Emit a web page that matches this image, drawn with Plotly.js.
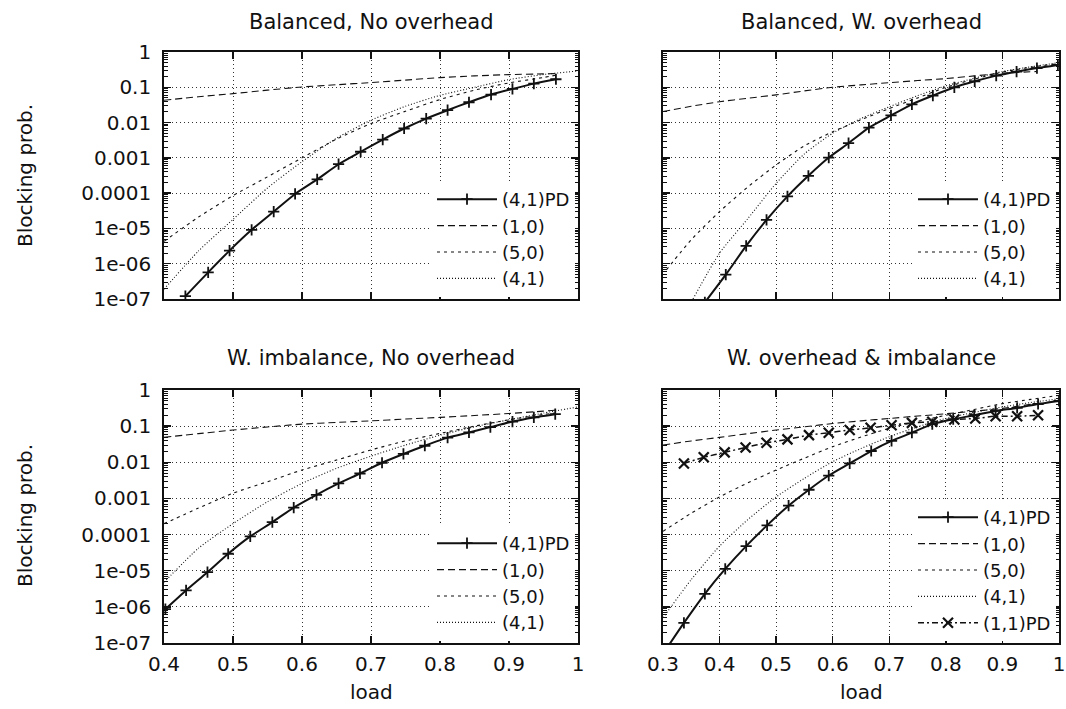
<!DOCTYPE html>
<html>
<head>
<meta charset="utf-8">
<script src="https://cdn.plot.ly/plotly-3.0.1.min.js"></script>
<style>html,body{margin:0;padding:0;background:#fff;}#chart{width:1066px;height:709px;}</style>
</head>
<body>
<div id="chart"></div>
<script>
// ---------- DATA ----------
const panelTitles = ["Balanced, No overhead", "Balanced, W. overhead", "W. imbalance, No overhead", "W. overhead & imbalance"];
const seriesNames = ["(4,1)PD", "(1,0)", "(5,0)", "(4,1)", "(1,1)PD"];
const yTickExp = [-7, -6, -5, -4, -3, -2, -1, 0];
const yTickText = ["1e-07", "1e-06", "1e-05", "0.0001", "0.001", "0.01", "0.1", "1"];

// Top-left: Balanced, No overhead
const tl_pd_x = [0.431,0.464,0.495,0.527,0.559,0.590,0.622,0.653,0.685,0.717,0.748,0.780,0.811,0.842,0.874,0.905,0.936,0.968];
const tl_pd_y = [1.2e-7,5.7e-7,2.35e-6,9.1e-6,3.0e-5,9.5e-5,2.45e-4,6.6e-4,1.49e-3,3.3e-3,6.8e-3,0.013,0.0224,0.0377,0.0622,0.090,0.127,0.169];
const tl_x = [0.40,0.45,0.50,0.55,0.60,0.65,0.70,0.75,0.80,0.85,0.90,0.95,0.968];
const tl_10_y = [0.043,0.054,0.066,0.083,0.102,0.118,0.136,0.16,0.188,0.21,0.229,0.24,0.245];
const tl_50_y = [4.3e-6,2.1e-5,8.5e-5,2.9e-4,1.0e-3,3.4e-3,9.4e-3,0.021,0.045,0.083,0.133,0.19,0.22];
const tl_41_x = [0.40,0.45,0.50,0.55,0.60,0.65,0.70,0.75,0.80,0.85,0.90,0.95,1.0];
const tl_41_y = [1.9e-7,2.3e-6,1.8e-5,1.4e-4,7.8e-4,3.6e-3,0.0117,0.029,0.059,0.10,0.165,0.23,0.29];

// Top-right: Balanced, W. overhead
const tr_pd_x = [0.374,0.411,0.447,0.483,0.520,0.557,0.593,0.628,0.664,0.703,0.740,0.777,0.815,0.851,0.889,0.925,0.961,0.998];
const tr_pd_y = [8e-8,4.9e-7,3.2e-6,1.74e-5,8.1e-5,3.1e-4,1.02e-3,2.6e-3,7.2e-3,0.0159,0.033,0.058,0.10,0.148,0.214,0.277,0.35,0.43];
const tr_10_x = [0.30,0.35,0.40,0.45,0.50,0.55,0.60,0.65,0.70,0.75,0.80,0.85,0.90,0.96];
const tr_10_y = [0.0205,0.029,0.039,0.049,0.061,0.079,0.10,0.117,0.135,0.155,0.176,0.21,0.25,0.28];
const tr_50_x = [0.306,0.35,0.40,0.45,0.50,0.55,0.60,0.65,0.70,0.75,0.80,0.85,0.90,0.95,1.0];
const tr_50_y = [6.7e-7,4.8e-6,3.0e-5,1.5e-4,6.3e-4,2.2e-3,5.5e-3,0.012,0.025,0.05,0.10,0.17,0.27,0.37,0.47];
const tr_41_x = [0.353,0.40,0.45,0.50,0.55,0.60,0.65,0.70,0.75,0.80,0.85,0.90,0.95,1.0];
const tr_41_y = [1e-7,2.0e-6,1.9e-5,1.9e-4,1.3e-3,5.0e-3,0.013,0.028,0.058,0.11,0.18,0.28,0.38,0.5];

// Bottom-left: W. imbalance, No overhead
const bl_pd_x = [0.402,0.432,0.463,0.493,0.525,0.557,0.588,0.621,0.653,0.684,0.716,0.747,0.778,0.811,0.842,0.873,0.905,0.936,0.967];
const bl_pd_y = [8.7e-7,2.85e-6,9.1e-6,2.95e-5,8.9e-5,2.2e-4,5.6e-4,1.26e-3,2.6e-3,4.9e-3,9.7e-3,0.017,0.0287,0.048,0.067,0.094,0.134,0.174,0.214];
const bl_x = [0.40,0.45,0.50,0.55,0.60,0.65,0.70,0.75,0.80,0.85,0.90,0.95,0.967];
const bl_10_y = [0.049,0.062,0.078,0.095,0.114,0.127,0.14,0.157,0.175,0.197,0.224,0.26,0.275];
const bl_50_y = [2.0e-4,5.4e-4,1.4e-3,2.9e-3,6.1e-3,0.0115,0.022,0.039,0.063,0.10,0.15,0.21,0.23];
const bl_41_x = [0.40,0.45,0.50,0.55,0.60,0.65,0.70,0.75,0.80,0.85,0.90,0.95,1.0];
const bl_41_y = [4.8e-6,4.2e-5,2.0e-4,8.1e-4,2.6e-3,6.8e-3,0.0148,0.030,0.056,0.096,0.15,0.23,0.34];

// Bottom-right: W. overhead & imbalance
const br_pd_x = [0.300,0.337,0.374,0.410,0.447,0.484,0.522,0.558,0.593,0.630,0.668,0.704,0.740,0.776,0.813,0.850,0.888,0.926,0.963,1.0];
const br_pd_y = [5e-8,3.6e-7,2.3e-6,1.12e-5,4.8e-5,1.8e-4,6.3e-4,1.74e-3,4.3e-3,9.3e-3,0.0205,0.039,0.066,0.114,0.156,0.20,0.263,0.32,0.41,0.5];
const br_11_x = [0.337,0.372,0.409,0.446,0.483,0.520,0.558,0.593,0.630,0.667,0.704,0.740,0.776,0.815,0.852,0.888,0.926,0.963];
const br_11_y = [9.3e-3,0.0137,0.0188,0.0258,0.0346,0.043,0.0565,0.066,0.078,0.090,0.106,0.123,0.132,0.153,0.163,0.188,0.188,0.2];
const br_x = [0.30,0.35,0.40,0.45,0.50,0.55,0.60,0.65,0.70,0.75,0.80,0.85,0.90,0.95,1.0];
const br_10_y = [0.030,0.039,0.049,0.062,0.078,0.096,0.118,0.14,0.163,0.19,0.22,0.26,0.31,0.4,0.5];
const br_50_y = [1.23e-4,3.9e-4,1.1e-3,2.7e-3,6.1e-3,0.013,0.027,0.05,0.087,0.135,0.2,0.29,0.42,0.55,0.71];
const br_41_y = [5e-7,5.7e-6,4.8e-5,2.6e-4,1.1e-3,3.6e-3,0.0104,0.024,0.051,0.096,0.163,0.24,0.34,0.45,0.57];

// ---------- STYLE ----------
const FONT = "DejaVu Sans, Liberation Sans, Arial, sans-serif";
const INK = "#111";
const styles = {
  pd:  {line:{color:INK, width:2, dash:"solid"}, marker:{symbol:"cross-thin-open", size:8, line:{width:1.8, color:INK}}, mode:"lines+markers"},
  s10: {line:{color:INK, width:1.1, dash:"7px,4px"}, mode:"lines"},
  s50: {line:{color:INK, width:1.1, dash:"3px,4px"}, mode:"lines"},
  s41: {line:{color:INK, width:1.1, dash:"1px,2px"}, mode:"lines"},
  s11: {line:{color:INK, width:1.5, dash:"6px,3px,2px,3px"}, marker:{symbol:"x-thin-open", size:10, line:{width:2.2, color:INK}}, mode:"lines+markers"}
};

function tr(x, y, name, st, ax, leg) {
  const t = {type:"scatter", x:x, y:y, name:name, xaxis:"x"+ax, yaxis:"y"+ax, legend:leg,
    line:Object.assign({}, st.line, {shape:"spline", smoothing:0.6}), mode:st.mode};
  if (st.marker) t.marker = st.marker;
  return t;
}

const traces = [
  tr(tl_x, tl_10_y, seriesNames[1], styles.s10, "", "legend"),
  tr(tl_x, tl_50_y, seriesNames[2], styles.s50, "", "legend"),
  tr(tl_41_x, tl_41_y, seriesNames[3], styles.s41, "", "legend"),
  tr(tl_pd_x, tl_pd_y, seriesNames[0], styles.pd, "", "legend"),
  tr(tr_10_x, tr_10_y, seriesNames[1], styles.s10, "2", "legend2"),
  tr(tr_50_x, tr_50_y, seriesNames[2], styles.s50, "2", "legend2"),
  tr(tr_41_x, tr_41_y, seriesNames[3], styles.s41, "2", "legend2"),
  tr(tr_pd_x, tr_pd_y, seriesNames[0], styles.pd, "2", "legend2"),
  tr(bl_x, bl_10_y, seriesNames[1], styles.s10, "3", "legend3"),
  tr(bl_x, bl_50_y, seriesNames[2], styles.s50, "3", "legend3"),
  tr(bl_41_x, bl_41_y, seriesNames[3], styles.s41, "3", "legend3"),
  tr(bl_pd_x, bl_pd_y, seriesNames[0], styles.pd, "3", "legend3"),
  tr(br_x, br_10_y, seriesNames[1], styles.s10, "4", "legend4"),
  tr(br_x, br_50_y, seriesNames[2], styles.s50, "4", "legend4"),
  tr(br_x, br_41_y, seriesNames[3], styles.s41, "4", "legend4"),
  tr(br_11_x, br_11_y, seriesNames[4], styles.s11, "4", "legend4"),
  tr(br_pd_x, br_pd_y, seriesNames[0], styles.pd, "4", "legend4")
];
const rank = {"(4,1)PD":1, "(1,0)":2, "(5,0)":3, "(4,1)":4, "(1,1)PD":5};
traces.forEach(t => { t.legendrank = rank[t.name]; });

// ---------- LAYOUT ----------
const W = 1066, H = 709;
const colL = [164/W, 578/W], colR = [663/W, 1059/W];
const rowT = [(H-299)/H, (H-52)/H], rowB = [(H-643)/H, (H-390)/H];

const yTickVals = yTickExp.map(e => Math.pow(10, e));
const yMinor = [];
for (let e = -7; e < 0; e++) for (let k = 2; k <= 9; k++) yMinor.push(k * Math.pow(10, e));

const TICKFONT = {family:FONT, size:20, color:INK};

function xax(domain, anchor, range, labels) {
  return {domain:domain, anchor:anchor, range:range, dtick:0.1, tick0:0, showticklabels:labels,
    ticks:"inside", ticklen:7, tickwidth:1.3, tickcolor:INK, mirror:"ticks", showline:true, linewidth:1.8, linecolor:INK,
    showgrid:true, gridcolor:"#333", griddash:"1px,3px", gridwidth:1, zeroline:false,
    tickfont:TICKFONT, ticklabelstandoff:2, ticklabeloverflow:"allow", fixedrange:true};
}
function yax(domain, anchor, labels) {
  return {domain:domain, anchor:anchor, type:"log", range:[-7, 0], tickmode:"array", tickvals:yTickVals, ticktext:yTickText,
    showticklabels:labels, ticks:"inside", ticklen:7, tickwidth:1.3, tickcolor:INK, mirror:"ticks", showline:true, linewidth:1.8, linecolor:INK,
    showgrid:true, gridcolor:"#333", griddash:"1px,3px", gridwidth:1, zeroline:false,
    minor:{tickmode:"array", tickvals:yMinor, ticks:"inside", ticklen:3.5, tickwidth:1, tickcolor:INK, showgrid:false},
    tickfont:TICKFONT, ticklabelstandoff:7, ticklabeloverflow:"allow", fixedrange:true};
}
function leg(xr, yb) {
  return {x:xr, xanchor:"right", y:yb, yanchor:"bottom", bgcolor:"#fff", borderwidth:0,
    font:{family:FONT, size:18, color:INK}, tracegroupgap:0, traceorder:"normal", itemwidth:60};
}

const annots = [
  {text:panelTitles[0], x:(colL[0]+colL[1])/2, y:(H-22)/H},
  {text:panelTitles[1], x:(colR[0]+colR[1])/2, y:(H-22)/H},
  {text:panelTitles[2], x:(colL[0]+colL[1])/2, y:(H-358)/H},
  {text:panelTitles[3], x:(colR[0]+colR[1])/2, y:(H-358)/H},
  {text:"Blocking prob.", x:25/W, y:(H-176)/H, textangle:-90, font:TICKFONT},
  {text:"Blocking prob.", x:25/W, y:(H-516)/H, textangle:-90, font:TICKFONT},
  {text:"load", x:(colL[0]+colL[1])/2, y:(H-692)/H, font:TICKFONT},
  {text:"load", x:(colR[0]+colR[1])/2, y:(H-692)/H, font:TICKFONT}
].map(a => Object.assign({xref:"paper", yref:"paper", xanchor:"center", yanchor:"middle", showarrow:false,
  font:{family:FONT, size:21, color:INK}}, a));

const layout = {
  width:W, height:H, margin:{l:0, r:0, t:0, b:0}, paper_bgcolor:"#fff", plot_bgcolor:"#fff",
  font:{family:FONT, size:18, color:INK},
  showlegend:true,
  xaxis:xax(colL, "y", [0.4, 1.0], false),  yaxis:yax(rowT, "x", true),
  xaxis2:xax(colR, "y2", [0.3, 1.0], false), yaxis2:yax(rowT, "x2", false),
  xaxis3:xax(colL, "y3", [0.4, 1.0], true),  yaxis3:yax(rowB, "x3", true),
  xaxis4:xax(colR, "y4", [0.3, 1.0], true),  yaxis4:yax(rowB, "x4", false),
  legend:leg(colL[1] - 3/W, rowT[0] + 2/H),
  legend2:leg(colR[1] - 3/W, rowT[0] + 2/H),
  legend3:leg(colL[1] - 3/W, rowB[0] + 2/H),
  legend4:leg(colR[1] - 3/W, rowB[0] + 2/H),
  annotations:annots
};

Plotly.newPlot("chart", traces, layout, {displayModeBar:false, staticPlot:true});
</script>
</body>
</html>
